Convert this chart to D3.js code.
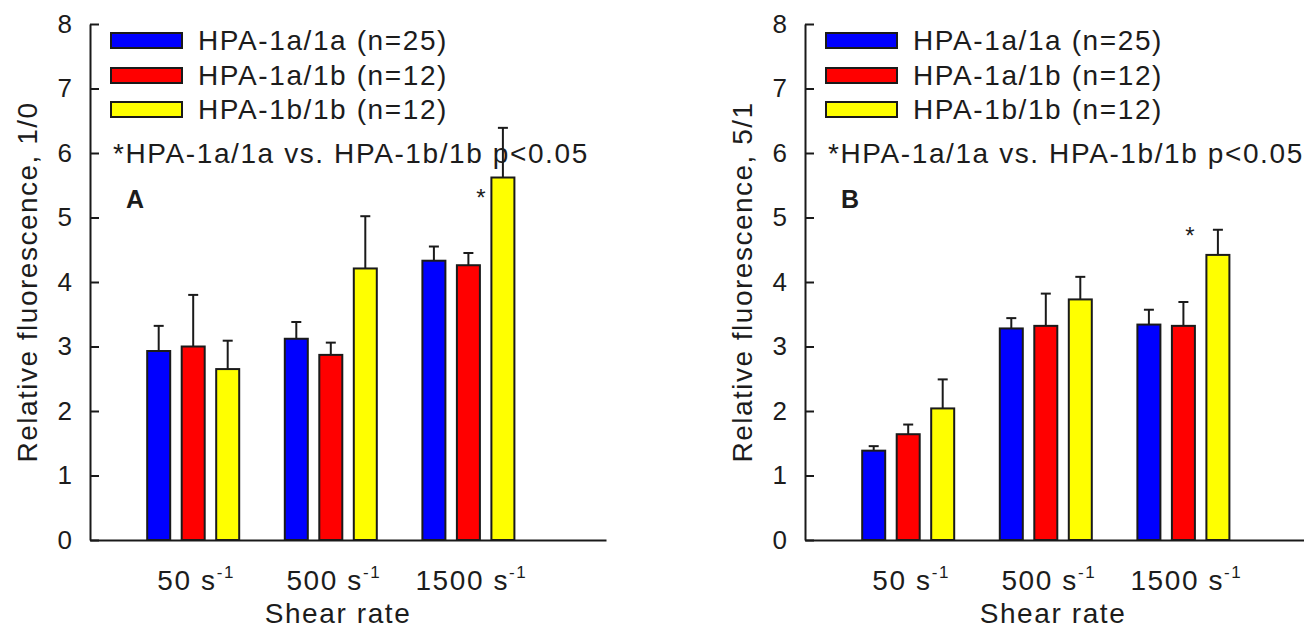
<!DOCTYPE html>
<html>
<head>
<meta charset="utf-8">
<script src="https://cdn.jsdelivr.net/npm/d3@7"></script>
<style>
  body { margin: 0; background: #fff; }
  text { font-family: "Liberation Sans", Arial, sans-serif; fill: #1c1c1c; }
</style>
</head>
<body>
<div id="chart"></div>
<script>
// chart data
let shearRates = ["50", "500", "1500"];
let genotypes = ["HPA-1a/1a (n=25)", "HPA-1a/1b (n=12)", "HPA-1b/1b (n=12)"];
let yTicks = [0, 1, 2, 3, 4, 5, 6, 7, 8];

// panel A, ratio 1/0 : means [shear][genotype] and SEM
let meansA = [[2.93, 3.00, 2.65], [3.12, 2.87, 4.21], [4.33, 4.26, 5.62]];
let semA = [[0.39, 0.80, 0.44], [0.26, 0.19, 0.81], [0.22, 0.19, 0.77]];

// panel B, ratio 5/1
let meansB = [[1.385, 1.64, 2.04], [3.28, 3.32, 3.73], [3.34, 3.32, 4.42]];
let semB = [[0.07, 0.15, 0.45], [0.16, 0.50, 0.35], [0.23, 0.37, 0.39]];

let colors = ["#0000ff", "#ff0000", "#ffff00"];
let ink = "#1a1a1a";

let svgWidth = 1304;
let svgHeight = 630;

let svg = d3.select("#chart")
  .append("svg")
  .attr("width", svgWidth)
  .attr("height", svgHeight);

let yTop = 24;
let yBottom = 540;
let axisLen = 516;
let barW = 23;
let barStep = 34.5;

function drawPanel(p) {
  let g = svg.append("g");

  let yScale = d3.scaleLinear().domain([0, 8]).range([yBottom, yTop]);
  let xScale = d3.scaleLinear().domain([-0.75, 3]).range([p.x0, p.x0 + axisLen]);

  // y axis, ticks pointing inward
  let yAxis = g.append("g")
    .attr("transform", `translate(${p.x0},0)`)
    .call(d3.axisLeft(yScale).tickValues(yTicks).tickSizeInner(-9).tickSizeOuter(0).tickPadding(18));
  yAxis.select(".domain").attr("stroke", ink).attr("stroke-width", 2);
  yAxis.selectAll(".tick line").attr("stroke", ink).attr("stroke-width", 2);
  yAxis.selectAll(".tick text")
    .style("font-family", "'Liberation Sans', Arial, sans-serif")
    .style("font-size", "26px")
    .attr("fill", "#1c1c1c");

  // x axis line only
  let xAxis = g.append("g")
    .attr("transform", `translate(0,${yBottom})`)
    .call(d3.axisBottom(xScale).tickValues([]).tickSizeOuter(0));
  xAxis.select(".domain").attr("stroke", ink).attr("stroke-width", 2);

  // flatten data
  let rows = [];
  p.means.forEach((grp, i) => {
    grp.forEach((m, j) => {
      rows.push({ i: i, j: j, mean: m, sem: p.sem[i][j] });
    });
  });
  let cx = d => xScale(d.i) + (d.j - 1) * barStep;

  // error bars (upper only)
  g.selectAll(".err")
    .data(rows)
    .join("line")
    .attr("x1", cx).attr("x2", cx)
    .attr("y1", d => yScale(d.mean))
    .attr("y2", d => yScale(d.mean + d.sem))
    .attr("stroke", ink).attr("stroke-width", 2);
  g.selectAll(".cap")
    .data(rows)
    .join("line")
    .attr("x1", d => cx(d) - 5).attr("x2", d => cx(d) + 5)
    .attr("y1", d => yScale(d.mean + d.sem))
    .attr("y2", d => yScale(d.mean + d.sem))
    .attr("stroke", ink).attr("stroke-width", 2);

  // bars
  g.selectAll(".bar")
    .data(rows)
    .join("rect")
    .attr("x", d => cx(d) - barW / 2)
    .attr("y", d => yScale(d.mean))
    .attr("width", barW)
    .attr("height", d => yScale(0) - yScale(d.mean))
    .attr("fill", d => colors[d.j])
    .attr("stroke", ink)
    .attr("stroke-width", 2);

  // significance star next to HPA-1b/1b at 1500
  let star = rows.find(d => d.i === 2 && d.j === 2);
  g.append("text")
    .attr("x", cx(star) - p.starDx)
    .attr("y", (p.starAtErr ? yScale(star.mean + star.sem) : yScale(star.mean) + 14) + 14)
    .attr("text-anchor", "middle")
    .style("font-size", "24px")
    .text("*");

  // category labels with superscript
  let cat = g.selectAll(".cat")
    .data(shearRates)
    .join("text")
    .attr("x", (d, i) => xScale(i) + 3)
    .attr("y", 590)
    .attr("text-anchor", "middle")
    .style("font-size", "28px")
    .style("letter-spacing", "1.6px");
  cat.append("tspan").text(d => d + " s");
  cat.append("tspan").attr("dy", -12).style("font-size", "17px").text("-1");

  g.append("text")
    .attr("x", p.x0 + 248)
    .attr("y", 623)
    .attr("text-anchor", "middle")
    .style("font-size", "28px")
    .style("letter-spacing", "1.6px")
    .text("Shear rate");

  g.append("text")
    .attr("transform", `translate(${p.x0 - 53},${(yTop + yBottom) / 2}) rotate(-90)`)
    .attr("text-anchor", "middle")
    .style("font-size", "28px")
    .style("letter-spacing", "1.5px")
    .text(p.yTitle);

  // legend
  let legY = [40, 75, 109];
  genotypes.forEach((name, j) => {
    g.append("rect")
      .attr("x", p.x0 + 21)
      .attr("y", legY[j] - 7)
      .attr("width", 71)
      .attr("height", 15)
      .attr("fill", colors[j])
      .attr("stroke", ink)
      .attr("stroke-width", 2);
    g.append("text")
      .attr("x", p.x0 + 108)
      .attr("y", legY[j] + 10)
      .style("font-size", "28px")
      .style("letter-spacing", "1.6px")
      .text(name);
  });

  g.append("text")
    .attr("x", p.x0 + 23)
    .attr("y", 163)
    .style("font-size", "28px")
    .style("letter-spacing", "1.6px")
    .text("*HPA-1a/1a vs. HPA-1b/1b p<0.05");

  g.append("text")
    .attr("x", p.x0 + 36)
    .attr("y", 208)
    .style("font-size", "25px")
    .style("font-weight", "bold")
    .text(p.letter);
}

drawPanel({ x0: 90, means: meansA, sem: semA, yTitle: "Relative fluorescence, 1/0", letter: "A", starDx: 22, starAtErr: false });
drawPanel({ x0: 805, means: meansB, sem: semB, yTitle: "Relative fluorescence, 5/1", letter: "B", starDx: 28, starAtErr: true });
</script>
</body>
</html>
